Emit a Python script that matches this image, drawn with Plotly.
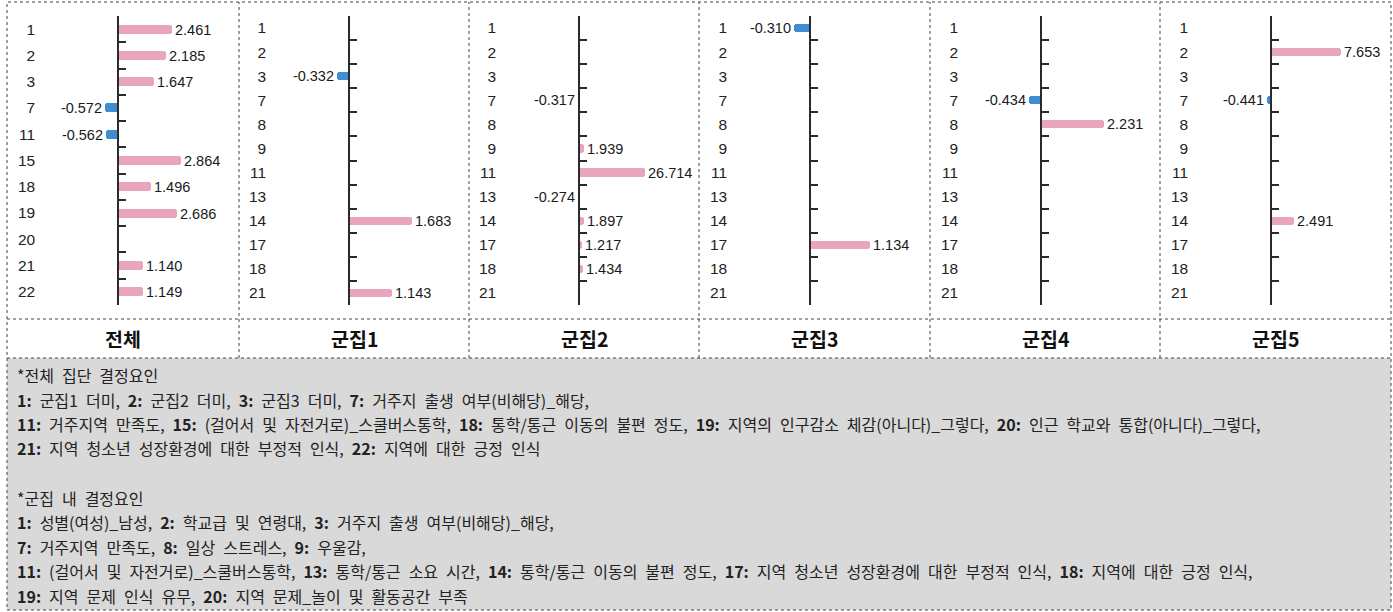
import plotly.graph_objects as go

# ---------------- data ----------------
panel_titles = ["전체", "군집1", "군집2", "군집3", "군집4", "군집5"]
total_categories = ["1", "2", "3", "7", "11", "15", "18", "19", "20", "21", "22"]
cluster_categories = ["1", "2", "3", "7", "8", "9", "11", "13", "14", "17", "18", "21"]

total_values = [2.461, 2.185, 1.647, -0.572, -0.562, 2.864, 1.496, 2.686, None, 1.140, 1.149]
cluster1_values = [None, None, -0.332, None, None, None, None, None, 1.683, None, None, 1.143]
cluster2_values = [None, None, None, -0.317, None, 1.939, 26.714, -0.274, 1.897, 1.217, 1.434, None]
cluster3_values = [-0.310, None, None, None, None, None, None, None, None, 1.134, None, None]
cluster4_values = [None, None, None, -0.434, 2.231, None, None, None, None, None, None, None]
cluster5_values = [None, 7.653, None, -0.441, None, None, None, None, 2.491, None, None, None]

note_lines = [
    "*전체 집단 결정요인",
    "<b>1:</b> 군집1 더미, <b>2:</b> 군집2 더미, <b>3:</b> 군집3 더미, <b>7:</b> 거주지 출생 여부(비해당)_해당,",
    "<b>11:</b> 거주지역 만족도, <b>15:</b> (걸어서 및 자전거로)_스쿨버스통학, <b>18:</b> 통학/통근 이동의 불편 정도, "
    "<b>19:</b> 지역의 인구감소 체감(아니다)_그렇다, <b>20:</b> 인근 학교와 통합(아니다)_그렇다,",
    "<b>21:</b> 지역 청소년 성장환경에 대한 부정적 인식, <b>22:</b> 지역에 대한 긍정 인식",
    "",
    "*군집 내 결정요인",
    "<b>1:</b> 성별(여성)_남성, <b>2:</b> 학교급 및 연령대, <b>3:</b> 거주지 출생 여부(비해당)_해당,",
    "<b>7:</b> 거주지역 만족도, <b>8:</b> 일상 스트레스, <b>9:</b> 우울감,",
    "<b>11:</b> (걸어서 및 자전거로)_스쿨버스통학, <b>13:</b> 통학/통근 소요 시간, <b>14:</b> 통학/통근 이동의 불편 정도, "
    "<b>17:</b> 지역 청소년 성장환경에 대한 부정적 인식, <b>18:</b> 지역에 대한 긍정 인식,",
    "<b>19:</b> 지역 문제 인식 유무, <b>20:</b> 지역 문제_놀이 및 활동공간 부족",
]

panels = [
    (total_categories, total_values),
    (cluster_categories, cluster1_values),
    (cluster_categories, cluster2_values),
    (cluster_categories, cluster3_values),
    (cluster_categories, cluster4_values),
    (cluster_categories, cluster5_values),
]

# ---------------- layout constants (pixels) ----------------
W, H = 1393, 612
PANEL_EDGES = [7, 239, 469, 699, 930, 1160, 1391]
AXIS_X = [118, 349, 579, 810, 1041, 1271]
PX_PER_UNIT = [22.0, 37.5, 2.47, 52.5, 28.3, 9.2]
NEG_PX, POS_PX = 80, 110
Y_TOP, Y_BOT = 16, 305
HEAD_TOP, HEAD_BOT = 319, 358
BOX_TOP, BOX_BOT = 2, 610

PINK = "#E9A5BB"
BLUE = "#3F8ED3"
LINE = "#2b2b2b"
NUM_FONT = "Liberation Sans, Arial, sans-serif"
KR_FONT = "Noto Sans CJK KR, sans-serif"
WIDE_SPACE = "\u2002"


def fx(px):
    return px / W


def fy(py):
    return 1 - py / H


fig = go.Figure()
layout_axes = {}

for i, (cats, vals) in enumerate(panels):
    k = "" if i == 0 else str(i + 1)
    xs, ys, cols = [], [], []
    for c, v in zip(cats, vals):
        if v is None:
            continue
        xs.append(v)
        ys.append(c)
        cols.append(PINK if v > 0 else BLUE)
    fig.add_trace(go.Bar(
        x=xs, y=ys, orientation="h",
        xaxis="x" + k, yaxis="y" + k,
        width=0.34,
        marker=dict(color=cols, cornerradius=3, line=dict(width=0)),
        texttemplate="%{x:.3f}", textposition="outside",
        constraintext="none", cliponaxis=False,
        outsidetextfont=dict(family=NUM_FONT, size=14.5, color="#1a1a1a"),
        hoverinfo="skip", showlegend=False,
    ))
    s = PX_PER_UNIT[i]
    n = len(cats)
    layout_axes["xaxis" + k] = dict(
        domain=[fx(AXIS_X[i] - NEG_PX), fx(AXIS_X[i] + POS_PX)],
        range=[-NEG_PX / s, POS_PX / s],
        anchor="y" + k, visible=False, fixedrange=True,
    )
    layout_axes["yaxis" + k] = dict(
        domain=[fy(Y_BOT), fy(Y_TOP)],
        type="category", categoryorder="array", categoryarray=cats,
        range=[n - 0.5, -0.5],
        anchor="free", position=fx(AXIS_X[i]), side="left",
        showline=True, linecolor=LINE, linewidth=1.5,
        ticks="inside", ticklen=7, tickwidth=1.5, tickcolor=LINE,
        tickson="boundaries", ticklabelstandoff=79,
        tickfont=dict(family=NUM_FONT, size=15.5, color="#222"),
        showgrid=False, zeroline=False, fixedrange=True,
    )

shapes = []
shapes.append(dict(type="rect", xref="paper", yref="paper", layer="below",
                   x0=fx(PANEL_EDGES[0]), x1=fx(PANEL_EDGES[-1]), y0=fy(BOX_BOT), y1=fy(HEAD_BOT),
                   fillcolor="#D9D9D9", line=dict(width=0)))
dot = dict(color="#444", width=1, dash="dot")
shapes.append(dict(type="rect", xref="paper", yref="paper",
                   x0=fx(PANEL_EDGES[0]), x1=fx(PANEL_EDGES[-1]), y0=fy(BOX_BOT), y1=fy(BOX_TOP),
                   line=dot, fillcolor="rgba(0,0,0,0)"))
for e in PANEL_EDGES[1:-1]:
    shapes.append(dict(type="line", xref="paper", yref="paper",
                       x0=fx(e), x1=fx(e), y0=fy(HEAD_BOT), y1=fy(BOX_TOP), line=dot))
for yy in (HEAD_TOP, HEAD_BOT):
    shapes.append(dict(type="line", xref="paper", yref="paper",
                       x0=fx(PANEL_EDGES[0]), x1=fx(PANEL_EDGES[-1]), y0=fy(yy), y1=fy(yy), line=dot))

annotations = []
for i, t in enumerate(panel_titles):
    cx = (PANEL_EDGES[i] + PANEL_EDGES[i + 1]) / 2
    annotations.append(dict(text="<b>" + t + "</b>", x=fx(cx), y=fy((HEAD_TOP + HEAD_BOT) / 2),
                            xref="paper", yref="paper", xanchor="center", yanchor="middle",
                            showarrow=False, font=dict(family=KR_FONT, size=19.5, color="#111")))
for j, line in enumerate(note_lines):
    if not line:
        continue
    annotations.append(dict(text=line.replace(" ", WIDE_SPACE), x=fx(15), y=fy(375 + j * 24.5),
                            xref="paper", yref="paper", xanchor="left", yanchor="middle",
                            showarrow=False, font=dict(family=KR_FONT, size=16, color="#222")))

fig.update_layout(
    width=W, height=H,
    margin=dict(l=0, r=0, t=0, b=0),
    paper_bgcolor="white", plot_bgcolor="rgba(0,0,0,0)",
    shapes=shapes, annotations=annotations,
    bargap=0, **layout_axes,
)

fig.write_html("out.html", config={"displayModeBar": False},
               post_script="document.body.style.margin='0';")
